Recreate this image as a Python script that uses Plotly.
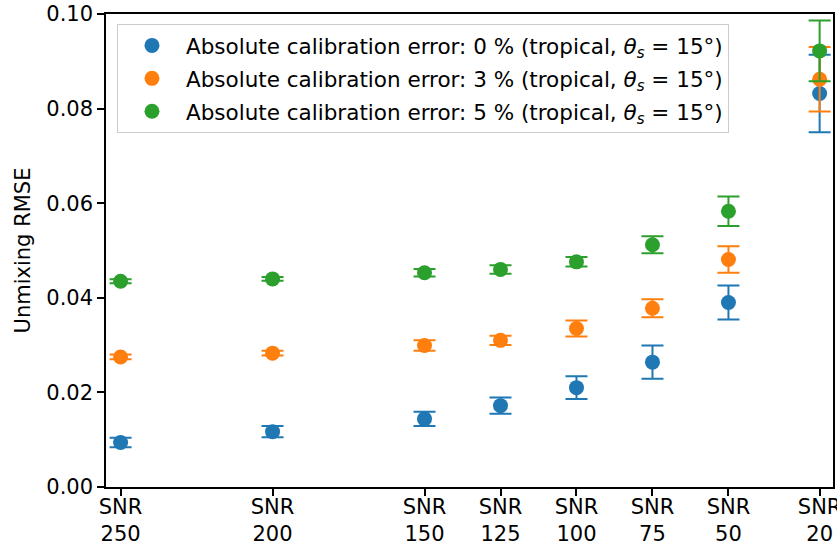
import plotly.graph_objects as go

snr = [250, 200, 150, 125, 100, 75, 50, 20]
tick_labels = ["SNR<br>250", "SNR<br>200", "SNR<br>150", "SNR<br>125",
               "SNR<br>100", "SNR<br>75", "SNR<br>50", "SNR<br>20"]

rmse_0 = [0.0094, 0.0117, 0.0144, 0.0172, 0.0210, 0.0264, 0.0390, 0.0832]
err_0 = [0.0010, 0.0012, 0.0015, 0.0017, 0.0024, 0.0035, 0.0036, 0.0082]

rmse_3 = [0.0275, 0.0283, 0.0299, 0.0310, 0.0335, 0.0378, 0.0481, 0.0862]
err_3 = [0.0005, 0.0005, 0.0011, 0.0010, 0.0017, 0.0019, 0.0028, 0.0068]

rmse_5 = [0.0435, 0.0440, 0.0453, 0.0460, 0.0476, 0.0512, 0.0583, 0.0922]
err_5 = [0.0004, 0.0004, 0.0008, 0.0009, 0.0010, 0.0018, 0.0031, 0.0064]

names = [
    "Absolute calibration error: 0 % (tropical, <i>θ<sub>s</sub></i> = 15°)",
    "Absolute calibration error: 3 % (tropical, <i>θ<sub>s</sub></i> = 15°)",
    "Absolute calibration error: 5 % (tropical, <i>θ<sub>s</sub></i> = 15°)",
]
colors = ["#1f77b4", "#ff7f0e", "#2ca02c"]
groups = ["g0", "g3", "g5"]

fig = go.Figure()
for y, e, n, c, g in zip([rmse_0, rmse_3, rmse_5], [err_0, err_3, err_5], names, colors, groups):
    fig.add_trace(go.Scatter(
        x=snr, y=y, mode="markers", name=n, legendgroup=g,
        marker=dict(color=c, size=15, symbol="circle"),
        error_y=dict(type="data", array=e, visible=True, color=c,
                     thickness=2, width=11),
    ))

font = "DejaVu Sans"
fs = 21
fig.update_layout(
    width=837, height=546,
    margin=dict(l=106, r=4, t=14, b=59),
    paper_bgcolor="white", plot_bgcolor="white",
    font=dict(family=font, size=fs, color="black"),
    showlegend=True,
    legend=dict(
        x=0.0151, y=0.979, xanchor="left", yanchor="top",
        bgcolor="rgba(255,255,255,0.8)", bordercolor="#cccccc", borderwidth=1,
        font=dict(family=font, size=21.5, color="black"),
        tracegroupgap=2, itemsizing="trace", itemwidth=58,
    ),
    xaxis=dict(
        range=[254.8, 15.6], automargin=False,
        tickmode="array", tickvals=snr, ticktext=tick_labels,
        showgrid=False, zeroline=False,
        showline=True, linecolor="black", linewidth=1.5, mirror=True,
        ticks="outside", ticklen=7, tickwidth=1.5, tickcolor="black",
        tickfont=dict(family=font, size=fs, color="black"),
        ticklabeloverflow="allow", ticklabelstandoff=-7,
    ),
    yaxis=dict(
        range=[0, 0.1], tickmode="array", automargin=False,
        tickvals=[0, 0.02, 0.04, 0.06, 0.08, 0.10],
        ticktext=["0.00", "0.02", "0.04", "0.06", "0.08", "0.10"],
        showgrid=False, zeroline=False,
        showline=True, linecolor="black", linewidth=1.5, mirror=True,
        ticks="outside", ticklen=7, tickwidth=1.5, tickcolor="black",
        tickfont=dict(family=font, size=fs, color="black"),
        title=dict(text="Unmixing RMSE", font=dict(family=font, size=fs, color="black"), standoff=10),
    ),
)

fig.write_html("out.html")
